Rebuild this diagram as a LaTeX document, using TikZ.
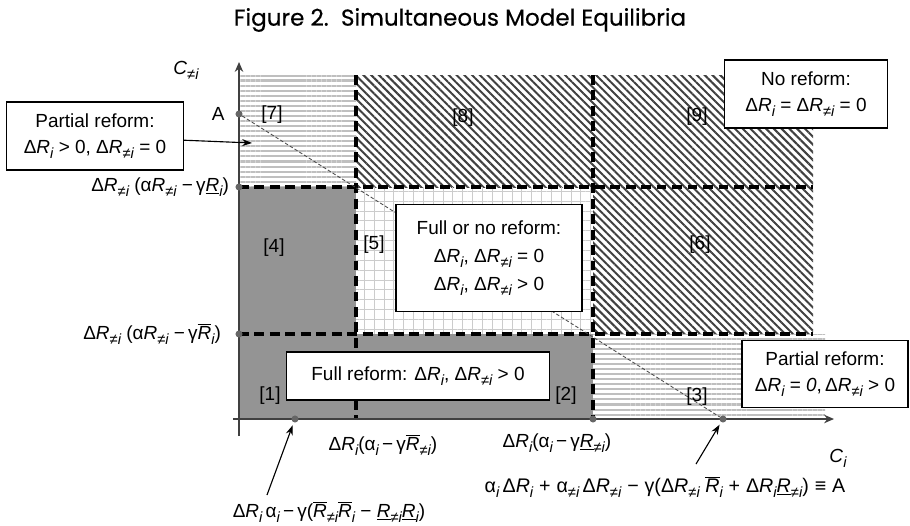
\documentclass[tikz,border=0pt]{standalone}
\usepackage{fontspec}
\setmainfont{Liberation Sans}
\newfontfamily\titlefont{Poppins}[FakeBold=0.4]
\usetikzlibrary{patterns.meta, arrows.meta, positioning}

\newcommand{\sbs}[1]{\raisebox{-0.5ex}{\fontsize{10.5}{10}\selectfont\itshape #1}}
\newcommand{\dR}[1]{Δ\textit{R}\sbs{#1}}
\newcommand{\al}[1]{α\sbs{#1}}
\newcommand{\Rx}[1]{\textit{R}\sbs{#1}}
\newcommand{\Rup}[1]{\mbox{$\overline{\mbox{\itshape R}}$}\sbs{#1}}
\newcommand{\Rlo}[1]{\underline{\itshape R}\sbs{#1}}
\newcommand{\op}[1]{\hspace{0.3em}#1\hspace{0.3em}}

\begin{document}
\begin{tikzpicture}[
  x=0.025cm, y=-0.025cm,
  every node/.style={font=\fontsize{13.5}{18}\selectfont},
  infobox/.style={draw, line width=0.8pt, fill=white, align=center, inner sep=3pt},
  stripes/.style={pattern={Lines[angle=0, distance=3.6pt, line width=1.5pt]}, pattern color=black!25},
  hatch/.style={pattern={Lines[angle=-45, distance=3.9pt, line width=1.4pt]}, pattern color=black!75},
  gridfill/.style={pattern={Hatch[distance=7pt, line width=0.5pt]}, pattern color=black!20},
  darkfill/.style={fill=black!42},
  divider/.style={line width=2.2pt, dash pattern=on 7pt off 4pt},
  axisline/.style={line width=1.4pt, draw=black!75, -{Stealth[length=7pt, width=6pt]}},
  ptdot/.style={circle, fill=black!60, inner sep=0pt, minimum size=5pt},
  pointer/.style={-{Stealth[length=7pt, width=5pt]}, line width=0.8pt},
  regionlbl/.style={inner sep=1pt}
]
\useasboundingbox (0,0) rectangle (910,526);
\fill[white] (0,0) rectangle (910,526);

% Title
\node (title) at (460,20) {\titlefont\fontsize{16.4}{18}\selectfont Figure 2.\ \ Simultaneous Model Equilibria};

% Regions
\fill[white] (239,75) rectangle (825,419);
\fill[stripes] (239,75) rectangle (356,187);
\fill[hatch] (356,75) rectangle (593,187);
\fill[hatch] (593,75) rectangle (813,187);
\fill[darkfill] (239,187) rectangle (356,334);
\fill[gridfill] (356,187) rectangle (593,334);
\fill[hatch] (593,187) rectangle (813,334);
\fill[darkfill] (239,334) rectangle (593,419);
\fill[stripes] (593,334) rectangle (825,419);

% Thresholds
\draw[divider] (239,187) -- (813,187);
\draw[divider] (239,334) -- (813,334);
\draw[divider] (356,75) -- (356,419);
\draw[divider] (593,75) -- (593,419);

% Axes
\draw[axisline] (239,436) -- (239,62);
\draw[axisline] (233,419) -- (834,419);

% Points
\node[ptdot] (ptA) at (239,114) {};
\node[ptdot] (ptHi) at (239,187) {};
\node[ptdot] (ptLo) at (239,334) {};
\node[ptdot] (ptX) at (295,419) {};
\node[ptdot] (ptR) at (593,419) {};
\node[ptdot] (ptB) at (723,419) {};
\draw[black!70, line width=0.6pt, dash pattern=on 2.5pt off 1.5pt] (ptA) -- (ptB);

% Region numbers
\node[regionlbl] (r7) at (272,115) {[7]};
\node[regionlbl] (r8) at (463,118) {[8]};
\node[regionlbl] (r9) at (697,117) {[9]};
\node[regionlbl] (r4) at (274,248) {[4]};
\node[regionlbl] (r5) at (374,245) {[5]};
\node[regionlbl] (r6) at (700,245) {[6]};
\node[regionlbl] (r1) at (270,396) {[1]};
\node[regionlbl] (r2) at (566,396) {[2]};
\node[regionlbl] (r3) at (697,397) {[3]};

% Boxes
\node[infobox, minimum width=4.08cm, minimum height=1.7cm] (noref) at (806,94)
  {No reform:\\ \dR{i} = \dR{≠i} = 0};
\node[infobox, minimum width=4.43cm, minimum height=1.7cm] (partL) at (95,136)
  {Partial reform:\\ \dR{i} > 0, \dR{≠i} = 0};
\node[infobox, minimum width=4.65cm, minimum height=2.68cm] (fullno) at (489,258)
  {Full or no reform:\\[2pt] \dR{i}, \dR{≠i} = 0\\[2pt] \dR{i}, \dR{≠i} > 0};
\node[infobox, minimum width=6.58cm, minimum height=1.2cm] (fullref) at (418,376)
  {Full reform: \dR{i}, \dR{≠i} > 0};
\node[infobox, minimum width=4.15cm, minimum height=1.68cm] (partR) at (825,374)
  {Partial reform:\\ \dR{i} = \textit{0},\,\dR{≠i} > 0};

% Axis labels
\node (cy) at (186,70) {\textit{C}\sbs{≠i}};
\node (cx) at (838,458) {\textit{C}\sbs{i}};
\node[left=4pt of ptA] (lA) {A};
\node[anchor=east] (yHi) at (234,187) {\dR{≠i}\ (α\Rx{≠i}\ −\,γ\Rlo{i})};
\node[anchor=east] (yLo) at (226,334) {\dR{≠i}\ (α\Rx{≠i}\ −\,γ\Rup{i})};
\node (xLo) at (383,445) {\dR{i}(\al{i}\,−\,γ\Rup{≠i})};
\node (xHi) at (557,443) {\dR{i}(\al{i}\,−\,γ\Rlo{≠i})};
\node[font=\fontsize{14}{18}\selectfont] (eqA) at (665,487) {\al{i}\,\dR{i}\op{+}\al{≠i}\,\dR{≠i}\op{−}γ(\dR{≠i}\ \Rup{i}\op{+}\dR{i}\Rlo{≠i})\op{≡}A};
\node (eqX) at (329,512) {\dR{i}\,\al{i}\,−\,γ(\Rup{≠i}\Rup{i} − \Rlo{≠i}\Rlo{i})};

% Pointers
\coordinate (tip7) at (252,143);
\coordinate (tailX) at (267,495);
\coordinate (tailB) at (696,464);
\draw[pointer] ([yshift=-3pt]partL.east) -- (tip7);
\draw[pointer, shorten >=2pt] (tailX) -- (ptX);
\draw[pointer, shorten >=2pt] (tailB) -- (ptB);

\end{tikzpicture}
\end{document}
